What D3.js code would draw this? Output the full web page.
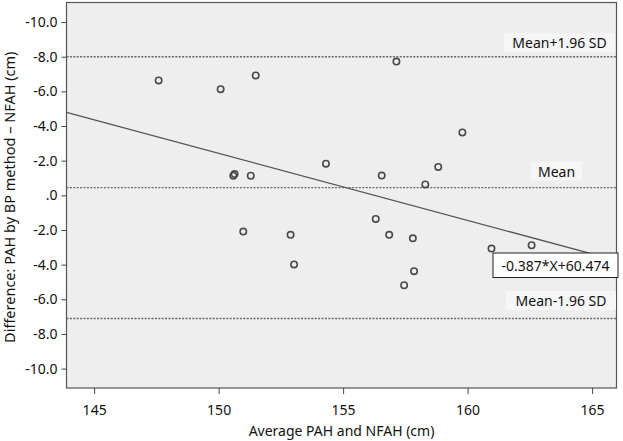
<!DOCTYPE html>
<html><head><meta charset="utf-8">
<script src="https://cdn.jsdelivr.net/npm/d3@7"></script>
<style>body{margin:0;background:#fff}svg{display:block;font-family:"Noto Sans",sans-serif}</style>
</head><body><svg id="c" width="623" height="441"></svg>
<script>
// Data: average (x) and difference (y) per subject
const avgValues  = [147.59,150.08,151.49,150.59,150.64,151.29,157.14,159.79,154.31,158.82,156.55,158.30,156.31,150.99,152.89,153.03,156.85,157.80,160.96,162.57,157.85,157.45];
const diffValues = [6.63,6.13,6.92,1.13,1.23,1.13,7.72,3.63,1.83,1.64,1.14,0.63,-1.36,-2.09,-2.28,-3.99,-2.28,-2.48,-3.07,-2.88,-4.38,-5.19];
const xTicks = [145,150,155,160,165];
const yTicks = [10,8,6,4,2,0,-2,-4,-6,-8,-10];
const yTickLabels = ["-10.0","-8.0","-6.0","-4.0","-2.0",".0","-2.0","-4.0","-6.0","-8.0","-10.0"];
const refValues = [8.0, 0.45, -7.11];
const refLabels = ["Mean+1.96 SD","Mean","Mean-1.96 SD"];
const slope = -0.387, intercept = 60.474;
const fitLabel = "-0.387*X+60.474";

const svg = d3.select("#c");
const L=66.5, R=616.5, T=2.5, B=388;
const x = d3.scaleLinear().domain([143.89,165.98]).range([L,R]);
const y = d3.scaleLinear().domain([-11.12,11.13]).range([B,T]);

svg.append("rect").attr("x",L).attr("y",T).attr("width",R-L).attr("height",B-T)
  .attr("fill","#eeeeee").attr("stroke","#555").attr("stroke-width",1.2);

// reference lines
svg.selectAll("line.ref").data(refValues).join("line").attr("class","ref")
  .attr("x1",L).attr("x2",R).attr("y1",d=>y(d)).attr("y2",d=>y(d))
  .attr("stroke","#666").attr("stroke-width",1.3).attr("stroke-dasharray","2,1.4");

// fit line
svg.append("line").attr("x1",x(143.89)).attr("x2",x(165.98))
  .attr("y1",y(slope*143.89+intercept)).attr("y2",y(slope*165.98+intercept))
  .attr("stroke","#555").attr("stroke-width",1.3);

// points
svg.selectAll("circle").data(avgValues).join("circle")
  .attr("cx",d=>x(d)).attr("cy",(d,i)=>y(diffValues[i])).attr("r",3.2)
  .attr("fill","none").attr("stroke","#4a4a4a").attr("stroke-width",1.6);

// reference labels
const refBoxes = [{x0:504,x1:615,dy:-23.5},{x0:531,x1:582,dy:-26},{x0:506,x1:616,dy:-27.5}];
refLabels.forEach((t,i)=>{
  const b=refBoxes[i], yy=y(refValues[i])+b.dy;
  svg.append("rect").attr("x",b.x0).attr("y",yy).attr("width",b.x1-b.x0).attr("height",19).attr("fill","#f6f6f6");
  svg.append("text").attr("x",(b.x0+b.x1)/2).attr("y",yy+15).attr("text-anchor","middle")
    .attr("font-size",14).attr("fill","#111").text(t);
});

// fit label box
svg.append("rect").attr("x",493).attr("y",253).attr("width",125).attr("height",24.5)
  .attr("fill","#fff").attr("stroke","#222").attr("stroke-width",1);
svg.append("text").attr("x",555.5).attr("y",271).attr("text-anchor","middle")
  .attr("font-size",14).attr("fill","#111").text(fitLabel);

// axes
const xa = svg.append("g").attr("transform",`translate(0,${B})`)
  .call(d3.axisBottom(x).tickValues(xTicks).tickSize(6).tickSizeOuter(0).tickFormat(d3.format("d")));
xa.select(".domain").remove();
xa.selectAll("line").attr("stroke","#444");
xa.selectAll("text").attr("font-size",14).attr("fill","#111").attr("font-family","Noto Sans").attr("dy","1.25em");

const ya = svg.append("g").attr("transform",`translate(${L},0)`)
  .call(d3.axisLeft(y).tickValues(yTicks).tickSize(5).tickFormat((d,i)=>yTickLabels[i]));
ya.select(".domain").remove();
ya.selectAll("line").attr("stroke","#444");
ya.selectAll("text").attr("font-size",14).attr("fill","#111").attr("font-family","Noto Sans").attr("x",-9);

svg.append("text").attr("x",(L+R)/2).attr("y",436).attr("text-anchor","middle")
  .attr("font-size",14).attr("fill","#111").text("Average PAH and NFAH (cm)");
svg.append("text").attr("transform",`translate(15,${(T+B)/2 + 2}) rotate(-90)`).attr("text-anchor","middle")
  .attr("font-size",14.5).attr("fill","#111").text("Difference: PAH by BP method – NFAH (cm)");
</script></body></html>
